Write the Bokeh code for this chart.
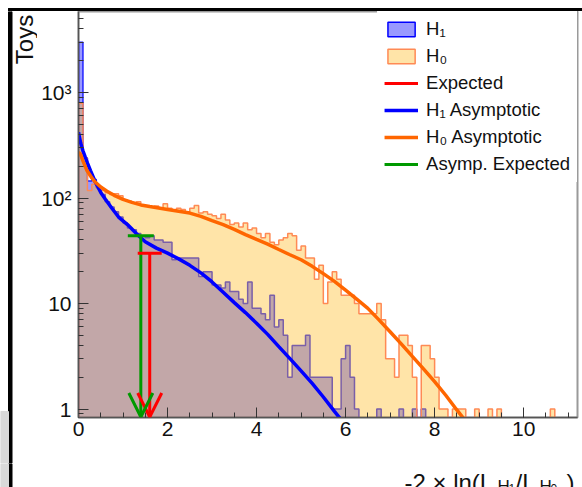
import numpy as np
from bokeh.plotting import figure
from bokeh.layouts import column, row
from bokeh.models import (Range1d, LogTicker, SingleIntervalTicker, Label,
                          Arrow, OpenHead, TeeHead, Legend, LegendItem)
from bokeh.embed import file_html
from bokeh.resources import INLINE

# ---------------- data ----------------
bin_width = 0.1
h1_counts = [3000, 240, 145, 150, 125, 108, 92, 82, 74, 66,
             58, 52, 50, 46, 44, 42, 44, 40, 40, 38,
             38, 26, 27, 27, 27, 27, 27, 18, 20, 20,
             15, 15, 14, 16, 13, 13, 11, 10, 16, 9,
             9, 8, 7, 12, 6, 7, 5, 2, 4, 4,
             4, 5, 2, 2, 2, 2, 2, 1, 1, 3,
             4, 2, 1, 0, 0, 0, 0, 1, 0, 0,
             0, 0, 1, 0, 0, 1, 0, 1, 0, 0,
             0, 0, 0, 0, 0, 0, 0, 0, 0, 0,
             0, 0, 0, 0, 0, 0, 0, 0, 0, 0,
             0, 0, 0, 0, 0, 0, 0, 0, 0, 0,
             0, 0]
h0_counts = [790, 240, 118, 135, 125, 118, 112, 108, 110, 105,
             95, 93, 90, 92, 86, 84, 82, 84, 80, 88,
             80, 76, 80, 78, 74, 80, 85, 72, 74, 70,
             68, 64, 70, 62, 56, 58, 53, 58, 50, 52,
             46, 42, 46, 38, 36, 40, 42, 46, 44, 32,
             35, 27, 27, 17, 23, 10, 16, 20, 17, 12,
             12, 12, 10, 8, 8, 8, 8, 10, 7, 3,
             3, 2, 5, 5, 4, 2, 0, 4, 4, 3,
             2, 1, 1, 0, 1, 1, 1, 0, 0, 1,
             0, 0, 1, 0, 1, 0, 0, 0, 0, 0,
             0, 0, 0, 0, 0, 0, 1, 0, 0, 0,
             0, 0]

h1_asym_x = [0.0, 0.05, 0.1, 0.15, 0.2, 0.27, 0.38, 0.5, 0.6, 0.75, 0.9, 1.1, 1.3, 1.5, 1.75,
             2.0, 2.25, 2.5, 2.75, 3.0, 3.25, 3.5, 3.75, 4.0, 4.25, 4.5, 4.75, 5.0, 5.25,
             5.5, 5.75, 6.0]
h1_asym_y = [420, 330, 280, 245, 215, 182, 141, 113, 98, 80, 66, 56, 46, 38.5, 33.5,
             30, 26.5, 23, 19.5, 16, 12.8, 10.2, 8.2, 6.5, 5.1, 3.9, 3.0, 2.3, 1.75,
             1.3, 0.95, 0.7]
h0_asym_x = [0.0, 0.04, 0.1, 0.19, 0.3, 0.38, 0.5, 0.64, 0.8, 1.0, 1.2, 1.4, 1.6, 1.8, 2.0,
             2.25, 2.5, 2.75, 3.0, 3.25, 3.5, 3.75, 4.0, 4.25, 4.5, 4.75, 5.0, 5.25, 5.5,
             5.75, 6.0, 6.25, 6.5, 6.75, 7.0, 7.25, 7.5, 7.75, 8.0, 8.25, 8.5, 8.75]
h0_asym_y = [270, 262, 225, 182, 155, 141, 127, 116, 106, 97, 91, 86, 83, 80.5, 78,
             75, 72, 67, 61, 56, 50.5, 45, 40.5, 36.5, 32.5, 29, 26, 22.5, 19.2,
             16.2, 13.4, 11, 9, 7, 5.4, 4.15, 3.15, 2.4, 1.82, 1.35, 0.98, 0.72]

expected_x = [1.60]
expected_y = [30.0]
asymp_expected_x = [1.40]
asymp_expected_y = [44.0]

x_ticks_interval = 2
y_tick_labels = {1: "1", 10: "10", 100: "10²", 1000: "10³"}
legend_labels = ["H₁", "H₀", "Expected", "H₁ Asymptotic", "H₀ Asymptotic", "Asymp. Expected"]
y_title = "Toys"
x_title_parts = ["-2 × ln(L", "H", "1", "/L", "H", "0", ")"]

# ---------------- page geometry (pixels) ----------------
W, H = 582, 487
TOP_H = 11          # strip above the plot
LEFT_W = 37         # strip left of the plot
MAIN_H = 444        # main plot height (frame page y 11 .. 417)
ROW_H = 452         # height reserved for the plot row
BOT_Y = TOP_H + ROW_H
FONT = "Liberation Sans"
TXT = "#111111"

X_MIN, X_MAX = 0.0, 11.21
Y_MIN, Y_MAX = 0.831, 5860.0
FLOOR = 0.4


def no_align(f):
    try:
        f.frame_align = False
    except Exception:
        pass
    return f


def Y(page_y):
    return H - page_y


def strip(x0, x1, y0, y1):
    # a decoration strip whose data coordinates are page pixels (y measured upward)
    f = figure(width=x1 - x0, height=y1 - y0, x_range=Range1d(x0, x1), y_range=Range1d(Y(y1), Y(y0)),
               min_border=0, toolbar_location=None, output_backend="svg",
               x_axis_location=None, y_axis_location=None)
    f.outline_line_color = None
    f.xgrid.visible = False
    f.ygrid.visible = False
    f.background_fill_color = "white"
    f.border_fill_color = "white"
    return no_align(f)


def box(f, l, r, t, b, c):
    f.quad(left=[l], right=[r], top=[Y(t)], bottom=[Y(b)], color=c)


# ---------------- main plot ----------------
p = figure(width=W - LEFT_W, height=MAIN_H, output_backend="svg", toolbar_location=None,
           y_axis_type="log", x_range=Range1d(X_MIN, X_MAX), y_range=Range1d(Y_MIN, Y_MAX),
           min_border_left=78 - LEFT_W, min_border_right=5, min_border_top=0,
           min_border_bottom=MAIN_H - 406)
no_align(p)
p.xgrid.visible = False
p.ygrid.visible = False
p.background_fill_color = "white"
p.border_fill_color = "white"
p.outline_line_color = "#9a9a9a"
p.outline_line_width = 2

n = len(h1_counts)
edges = np.round(np.arange(n + 1) * bin_width, 4)
h1_top = np.where(np.array(h1_counts) > 0, np.array(h1_counts, dtype=float), FLOOR)
h0_top = np.where(np.array(h0_counts) > 0, np.array(h0_counts, dtype=float), FLOOR)


def outline(tops):
    xs, ys = [edges[0]], [FLOOR]
    for i, t in enumerate(tops):
        xs += [edges[i], edges[i + 1]]
        ys += [t, t]
    xs.append(edges[-1])
    ys.append(FLOOR)
    return xs, ys


H1_FILL = "#0000ff"
H0_FILL = "#ffbb25"
H1_LINE = "#2222ff"
H0_LINE = "#ff8a55"

x1o, y1o = outline(h1_top)
x0o, y0o = outline(h0_top)
p.patch(x1o, y1o, fill_color=H1_FILL, fill_alpha=0.4, line_color=None)
p.line(x1o, y1o, line_color=H1_LINE, line_width=1.5)
p.patch(x0o, y0o, fill_color=H0_FILL, fill_alpha=0.4, line_color=None)
p.line(x0o, y0o, line_color=H0_LINE, line_width=1.5)

r_h1a = p.line(h1_asym_x, h1_asym_y, line_color="#0000ff", line_width=3.5)
r_h0a = p.line(h0_asym_x, h0_asym_y, line_color="#ff6600", line_width=3.5)

RED = "#ff0000"
GREEN = "#009900"
r_exp = p.segment(x0=expected_x, y0=expected_y, x1=expected_x, y1=[Y_MIN] * len(expected_x),
                  line_color=RED, line_width=3)
r_aexp = p.segment(x0=asymp_expected_x, y0=asymp_expected_y, x1=asymp_expected_x,
                   y1=[Y_MIN] * len(asymp_expected_x), line_color=GREEN, line_width=3)
for xs_, ys_, col, tee in ((expected_x, expected_y, RED, 24), (asymp_expected_x, asymp_expected_y, GREEN, 26)):
    p.add_layout(Arrow(x_start=xs_[0], y_start=ys_[0], x_end=xs_[0], y_end=Y_MIN * 1.01,
                       line_alpha=0.0,
                       start=TeeHead(size=tee, line_color=col, line_width=3),
                       end=OpenHead(size=24, line_color=col, line_width=3)))

# legend swatches (NaN data: nothing drawn in the plot area)
nan = [float("nan")]
d_h1 = p.quad(left=nan, right=nan, bottom=nan, top=nan, fill_color=H1_FILL, fill_alpha=0.4,
              line_color="#0000ff", line_width=1.5)
d_h0 = p.quad(left=nan, right=nan, bottom=nan, top=nan, fill_color=H0_FILL, fill_alpha=0.4,
              line_color=H0_LINE, line_width=1.5)
legend = Legend(items=[LegendItem(label=l, renderers=[r]) for l, r in
                       zip(legend_labels, [d_h1, d_h0, r_exp, r_h1a, r_h0a, r_aexp])],
                location="top_right", margin=0, padding=7, spacing=5,
                glyph_width=34, glyph_height=18, label_standoff=8,
                label_text_font=FONT, label_text_font_size="18.5px", label_text_color=TXT,
                border_line_alpha=0.0, background_fill_color="white", background_fill_alpha=1.0)
p.add_layout(legend)

p.xaxis.ticker = SingleIntervalTicker(interval=x_ticks_interval, num_minor_ticks=4)
p.yaxis.ticker = LogTicker(num_minor_ticks=10)
p.yaxis.major_label_overrides = y_tick_labels
for ax in (p.xaxis[0], p.yaxis[0]):
    ax.major_tick_in = 10
    ax.major_tick_out = 0
    ax.minor_tick_in = 5
    ax.minor_tick_out = 0
    ax.axis_line_color = "#555555"
    ax.axis_line_width = 1.5
    ax.major_tick_line_color = "#333333"
    ax.minor_tick_line_color = "#333333"
    ax.major_label_text_font = FONT
    ax.major_label_text_font_size = "21px"
    ax.major_label_text_color = TXT
p.xaxis.major_label_standoff = 4
p.yaxis.major_label_standoff = 7

# ---------------- strips around the plot (window frame and titles) ----------------
q_top = strip(0, W, 0, TOP_H)
box(q_top, 8, W, 7, 10.5, "black")
box(q_top, 8, 11.5, 7, TOP_H, "black")

q_left = strip(0, LEFT_W, TOP_H, BOT_Y)
box(q_left, 8, 11.5, TOP_H, BOT_Y, "black")
box(q_left, 0, 8, 411, BOT_Y, "#d9d9d9")
q_left.add_layout(Label(x=24, y=Y(39), text=y_title, angle=np.pi / 2, text_align="center",
                        text_baseline="middle", text_font=FONT, text_font_size="24px",
                        text_color=TXT))

q_bot = strip(0, W, BOT_Y, H)
box(q_bot, 8, 11.5, BOT_Y, H, "black")
box(q_bot, 0, 8, BOT_Y, H, "#d9d9d9")
part_x = [404, 497, 508, 515, 539, 550, 566]
part_y = [482, 485.5, 487.5, 482, 485.5, 487.5, 482]
part_s = [24, 17, 12, 24, 17, 12, 24]
for t, px, py, s in zip(x_title_parts, part_x, part_y, part_s):
    q_bot.add_layout(Label(x=px, y=Y(py), text=t, text_baseline="alphabetic", text_align="left",
                           text_font=FONT, text_font_size=f"{s}px", text_color=TXT))

layout = column(q_top, row(q_left, p), q_bot)
open("out.html", "w").write(file_html(layout, INLINE))
